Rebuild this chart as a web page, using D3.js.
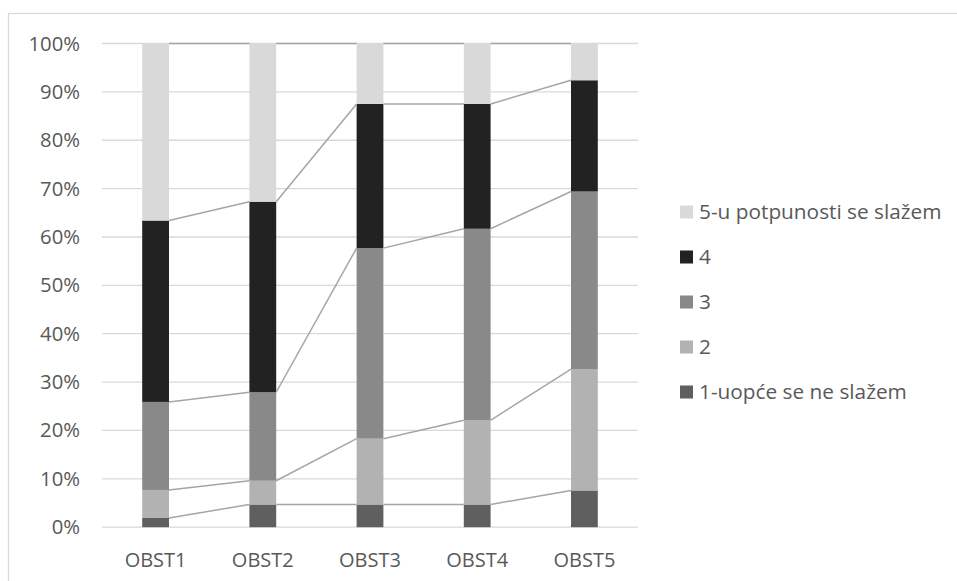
<!DOCTYPE html>
<html>
<head>
<meta charset="utf-8">
<script src="https://cdn.jsdelivr.net/npm/d3@7/dist/d3.min.js"></script>
<style>
  html, body { margin: 0; padding: 0; background: #fff; }
  svg { display: block; }
  text { font-family: "Open Sans", sans-serif; fill: #595959; }
</style>
</head>
<body>
<svg id="chart" width="957" height="581"></svg>
<script>
// ---- Data (percent shares per response level) ----
const categories = ["OBST1", "OBST2", "OBST3", "OBST4", "OBST5"];
const seriesNames = ["1-uopće se ne slažem", "2", "3", "4", "5-u potpunosti se slažem"];
const s1 = [1.9, 4.7, 4.7, 4.7, 7.6];
const s2 = [5.8, 4.9, 13.6, 17.4, 25.1];
const s3 = [18.2, 18.3, 39.4, 39.6, 36.7];
const s4 = [37.5, 39.4, 29.8, 25.8, 23.0];
const s5 = [36.6, 32.7, 12.5, 12.5, 7.6];
const yTicks = [0, 0.1, 0.2, 0.3, 0.4, 0.5, 0.6, 0.7, 0.8, 0.9, 1.0];
const colors = ["#5f5f5f", "#b2b2b2", "#898989", "#222222", "#d9d9d9"];

const seriesData = [s1, s2, s3, s4, s5];
const rows = categories.map((c, i) => {
  const r = { cat: c };
  seriesNames.forEach((n, k) => r[n] = seriesData[k][i]);
  return r;
});
const stacked = d3.stack().keys(seriesNames).offset(d3.stackOffsetExpand)(rows);

const svg = d3.select("#chart");
const FONT = '"Open Sans", sans-serif';
const FS = "20px";

// chart border
svg.append("rect").attr("x", 8.5).attr("y", 13.5).attr("width", 960).attr("height", 600)
  .attr("fill", "none").attr("stroke", "#d9d9d9").attr("stroke-width", 1.3);

const plot = { left: 102, right: 638, top: 43.5, bottom: 527.2 };
const x = d3.scaleBand().domain(categories).range([plot.left, plot.right]).paddingInner(0.75).paddingOuter(0.375);
const y = d3.scaleLinear().domain([0, 1]).range([plot.bottom, plot.top]);

// gridlines
svg.append("g").selectAll("line").data(yTicks).join("line")
  .attr("x1", plot.left).attr("x2", plot.right)
  .attr("y1", d => y(d)).attr("y2", d => y(d))
  .attr("stroke", "#d9d9d9").attr("stroke-width", 1.3);

// y axis labels
const yAxis = d3.axisLeft(y).tickValues(yTicks).tickFormat(d3.format(".0%")).tickSize(0).tickPadding(0);
const gy = svg.append("g").attr("transform", `translate(80,0)`).call(yAxis);
gy.select(".domain").remove();
gy.selectAll("text").style("font-family", FONT).style("font-size", "20.3px").attr("fill", "#595959");

// bars
const gBars = svg.append("g");
stacked.forEach((layer, k) => {
  gBars.append("g").attr("fill", colors[k]).selectAll("rect").data(layer).join("rect")
    .attr("x", d => x(d.data.cat))
    .attr("width", x.bandwidth())
    .attr("y", d => y(d[1]))
    .attr("height", d => y(d[0]) - y(d[1]));
});

// series lines
const gLines = svg.append("g");
stacked.forEach((layer) => {
  for (let i = 0; i < layer.length - 1; i++) {
    gLines.append("line")
      .attr("x1", x(categories[i]) + x.bandwidth())
      .attr("y1", y(layer[i][1]))
      .attr("x2", x(categories[i + 1]))
      .attr("y2", y(layer[i + 1][1]))
      .attr("stroke", "#a5a5a5").attr("stroke-width", 1.5);
  }
});

// x axis labels
const xAxis = d3.axisBottom(x).tickSize(0).tickPadding(0);
const gx = svg.append("g").attr("transform", `translate(0,${plot.bottom + 26})`).call(xAxis);
gx.select(".domain").remove();
gx.selectAll("text").style("font-family", FONT).style("font-size", FS).attr("fill", "#595959");

// legend (top entry = last series)
const legendOrder = seriesNames.map((n, k) => ({ name: n, color: colors[k] })).reverse();
const lg = svg.append("g").selectAll("g").data(legendOrder).join("g")
  .attr("transform", (d, i) => `translate(680,${212 + i * 45})`);
lg.append("rect").attr("x", 0).attr("y", -6.5).attr("width", 13).attr("height", 13).attr("fill", d => d.color);
lg.append("text").attr("x", 19).attr("y", 0).attr("dy", "0.35em")
  .style("font-family", FONT).style("font-size", "20.8px").text(d => d.name);
</script>
</body>
</html>
